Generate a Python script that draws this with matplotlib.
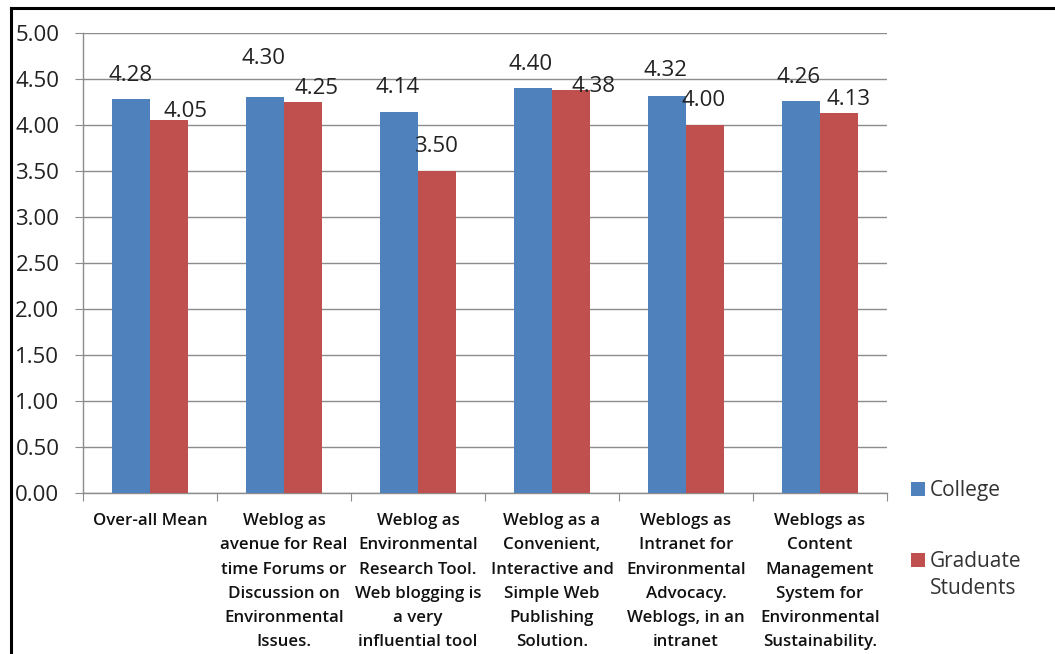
import matplotlib
matplotlib.use("Agg")
import matplotlib.pyplot as plt
import numpy as np
from matplotlib.patches import Rectangle
from matplotlib.lines import Line2D

categories = [
    "Over-all Mean",
    "Weblog as\navenue for Real\ntime Forums or\nDiscussion on\nEnvironmental\nIssues.",
    "Weblog as\nEnvironmental\nResearch Tool.\nWeb blogging is\na very\ninfluential tool",
    "Weblog as a\nConvenient,\nInteractive and\nSimple Web\nPublishing\nSolution.",
    "Weblogs as\nIntranet for\nEnvironmental\nAdvocacy.\nWeblogs, in an\nintranet",
    "Weblogs as\nContent\nManagement\nSystem for\nEnvironmental\nSustainability.",
]
college = [4.28, 4.30, 4.14, 4.40, 4.32, 4.26]
graduate = [4.05, 4.25, 3.50, 4.38, 4.00, 4.13]
series_names = ["College", "Graduate\nStudents"]
colors = ["#4F81BD", "#C0504D"]
yticks = [0.0, 0.5, 1.0, 1.5, 2.0, 2.5, 3.0, 3.5, 4.0, 4.5, 5.0]

# label placement offsets (pixels, relative to bar top centre) - style only
college_lbl_off = [(0, 24), (-1, 39), (-1, 25), (-2, 24), (-1, 25), (-2, 24)]
graduate_lbl_off = [(16, 9), (13, 14), (-1, 25), (22, 4), (-2, 25), (9, 14)]

W, H = 1055, 654
fig = plt.figure(figsize=(W / 100, H / 100), dpi=100)
ax = fig.add_axes([83 / W, 1 - 493 / H, (887 - 83) / W, (493 - 33) / H])

x = np.arange(len(categories))
bw = 0.287
b1 = ax.bar(x - bw / 2, college, bw, color=colors[0], label=series_names[0], zorder=3)
b2 = ax.bar(x + bw / 2, graduate, bw, color=colors[1], label=series_names[1], zorder=3)

numfont = dict(fontsize=16, family="Open Sans", color="#222222")
for bars, vals, offs in [(b1, college, college_lbl_off), (b2, graduate, graduate_lbl_off)]:
    for r, v, (dx, dy) in zip(bars, vals, offs):
        ax.annotate(f"{v:.2f}", (r.get_x() + r.get_width() / 2, v),
                    xytext=(dx, dy), textcoords="offset pixels",
                    ha="center", va="center", zorder=4, **numfont)

ax.set_ylim(0, 5)
ax.set_xlim(-0.5, len(categories) - 0.5)
ax.set_yticks(yticks)
ax.set_yticklabels([f"{t:.2f}" for t in yticks], **numfont)
ax.yaxis.grid(True, color="#8C8C8C", linewidth=1.0, zorder=0)
ax.tick_params(axis="y", length=6, color="#8C8C8C", pad=11)

ax.set_xticks(np.arange(-0.5, len(categories) + 0.5, 1.0))
ax.set_xticklabels([])
ax.tick_params(axis="x", length=6, color="#8C8C8C", direction="out")
for i, c in enumerate(categories):
    ax.text(i, -0.22, c, ha="center", va="top", fontsize=12.2, family="Open Sans",
            fontweight="semibold", linespacing=1.68, color="#111111",
            transform=ax.transData, clip_on=False)

for s in ["top", "right"]:
    ax.spines[s].set_visible(False)
for s in ["left", "bottom"]:
    ax.spines[s].set_color("#8C8C8C")
    ax.spines[s].set_linewidth(1.0)

# legend
for i, (name, col) in enumerate(zip(series_names, colors)):
    yc = 489 if i == 0 else 560
    fig.patches.append(Rectangle((910.5 / W, 1 - (yc + 7) / H), 14 / W, 14 / H,
                                 transform=fig.transFigure, facecolor=col, edgecolor="none"))
    fig.text(930 / W, 1 - (yc - 9) / H, name, ha="left", va="top", fontsize=15,
             family="Open Sans", color="#333333", linespacing=1.4)

# frame border (left and top visible)
fig.lines.append(Line2D([10.5 / W, 10.5 / W], [0, 1 - 7.7 / H], transform=fig.transFigure,
                        color="black", linewidth=2.2))
fig.lines.append(Line2D([10.5 / W, 1.0], [1 - 7.7 / H, 1 - 7.7 / H], transform=fig.transFigure,
                        color="black", linewidth=2.2))

fig.savefig("out.png", dpi=100)
